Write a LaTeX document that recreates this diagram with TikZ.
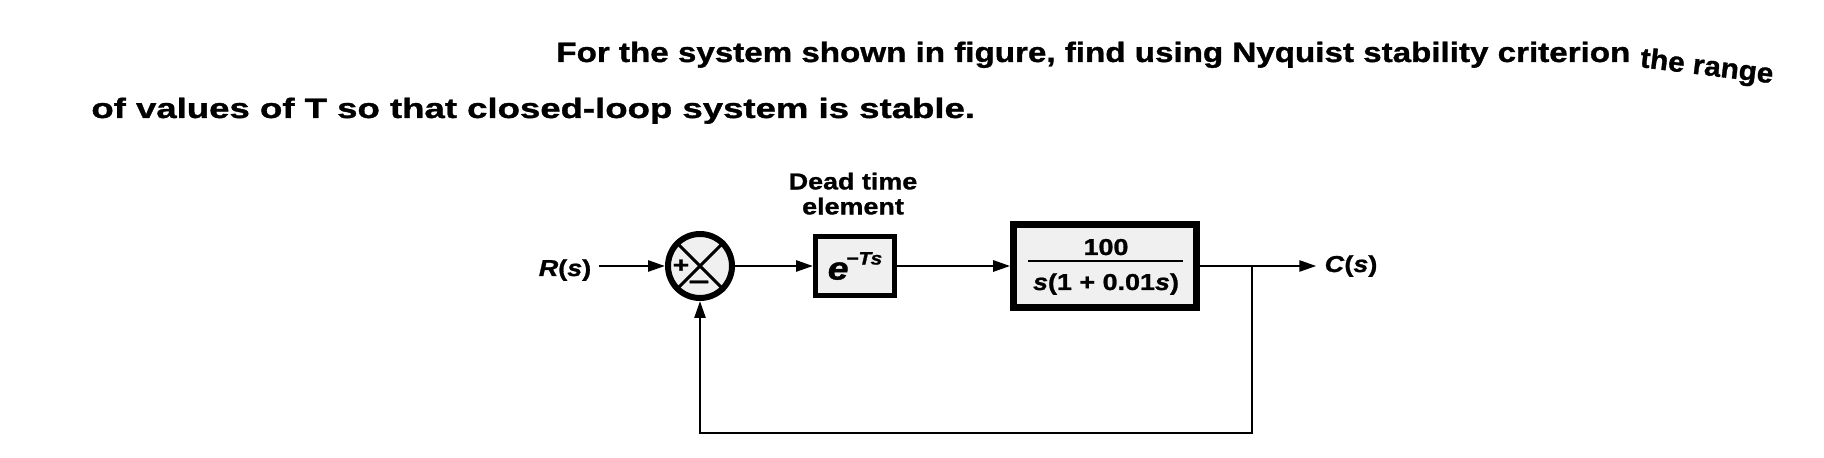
\documentclass[tikz,border=0pt]{standalone}
\usepackage{fontspec}
\setmainfont{Liberation Sans}[FakeStretch=1.28, BoldFeatures={FakeBold=1.2}, BoldItalicFeatures={FakeBold=1.2}]
\newfontfamily\lblfont{Liberation Sans}[FakeStretch=1.17, BoldFeatures={FakeBold=1.2}, BoldItalicFeatures={FakeBold=1.2}]
\usetikzlibrary{arrows.meta}
\begin{document}
\begin{tikzpicture}[x=0.5pt,y=-0.5pt,
  title/.style={inner sep=0pt, anchor=base west, font=\bfseries\fontsize{14}{16}\selectfont},
  lbl/.style={inner sep=0pt, font=\lblfont\bfseries\fontsize{11.5}{12.5}\selectfont},
  wire/.style={line width=1.3pt},
  conn/.style={wire, -{Triangle[length=8.5pt,width=5.5pt]}},
  blockbox/.style={draw, fill=gray!12, rectangle, inner sep=0pt},
  sign/.style={inner sep=0pt, font=\bfseries\fontsize{11}{12}\selectfont}
]
\path[use as bounding box] (0,0) rectangle (1824,458);

% title text
\node[title] (t1) at (556,62) {\scalebox{0.925}[1]{For the system shown in figure, find using Nyquist stability criterion}};
\node[title, rotate=-7] (t1b) at (1639,67) {\scalebox{0.83}[1]{the range}};
\node[title] (t2) at (91,118) {\scalebox{1.02}[1]{of values of T so that closed-loop system is stable.}};

% blocks
\node[draw, circle, line width=3pt, fill=gray!12, minimum size=32pt, inner sep=0pt] (sum) at (700,266) {};
\draw[line width=1.5pt] (sum.north west) -- (sum.south east);
\draw[line width=1.5pt] (sum.north east) -- (sum.south west);
\node[sign] (plus) at (681,266) {+};
\node[sign] (minus) at (699,285) {\scalebox{1.3}[1]{−}};

\node[blockbox, line width=2.5pt, minimum width=39.5pt, minimum height=29.5pt] (ebox) at (855,266)
  {{\lblfont\bfseries\fontsize{16}{17}\selectfont\itshape e}\kern-1.2pt\raisebox{7.5pt}{\lblfont\bfseries\fontsize{9}{10}\selectfont\itshape −Ts}};
\node[lbl, align=center, anchor=south] (dead) at (853,215) {Dead time\\element};

\node[blockbox, line width=3.3pt, minimum width=91.5pt, minimum height=41.5pt] (G) at (1105,266) {};
\node[lbl, anchor=base] (num) at (1106,255) {100};
\node[lbl, anchor=base] (den) at (1106,290) {\textit{s}(1 + 0.01\textit{s})};
\draw[line width=1pt] (1028,261) -- (1183,261);

\node[lbl, anchor=base] (R) at (565,276) {\textit{R}(\textit{s})};
\node[lbl, anchor=base] (Cs) at (1351,272) {\textit{C}(\textit{s})};

% connectors
\draw[conn, shorten <=3.5pt] (sum.west -| R.east) -- (sum.west);
\draw[conn] (sum) -- (ebox);
\draw[conn] (ebox) -- (G);
\draw[conn, shorten >=4pt] (G.east) -- (G.east -| Cs.west);
\coordinate (br) at (1252,266);
\coordinate (fbR) at (1252,433);
\coordinate (fbL) at (700,433);
\draw[conn] (br) -- (fbR) -- (fbL) -- (sum.south);
\end{tikzpicture}
\end{document}
